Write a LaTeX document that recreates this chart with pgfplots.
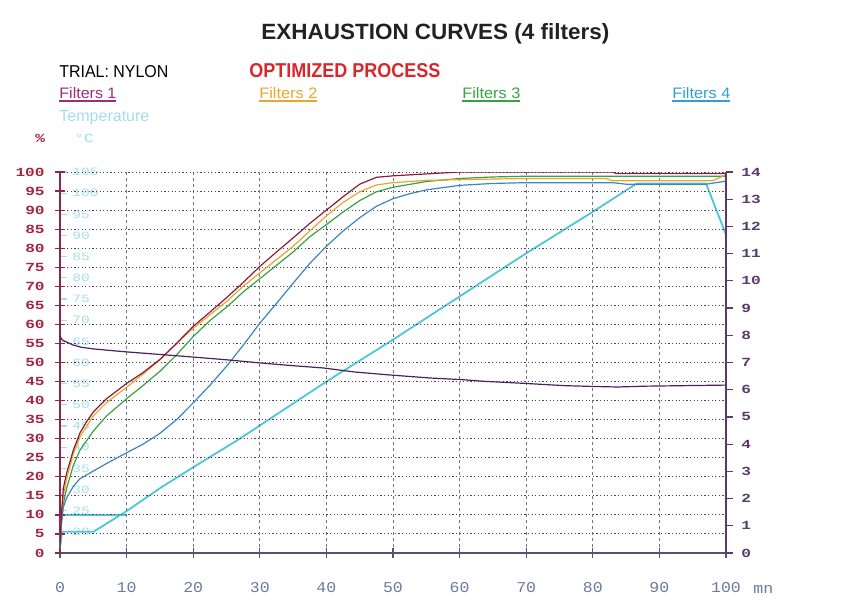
\documentclass[border=0pt]{standalone}
\usepackage{fontspec}
\setmainfont{Liberation Sans}
\newfontfamily\tickfont[FakeStretch=1.3]{Liberation Mono}
\newfontfamily\xtickfont[FakeStretch=1.1]{Liberation Mono}
\usepackage{graphicx}
\usepackage{pgfplots}
\pgfplotsset{compat=1.18}

\definecolor{titlegray}{HTML}{222222}
\definecolor{optred}{HTML}{D8262A}
\definecolor{fone}{HTML}{8C1C3C}
\definecolor{fonelab}{HTML}{9B2D7F}
\definecolor{ftwo}{HTML}{E8A530}
\definecolor{fthree}{HTML}{3AA040}
\definecolor{ffour}{HTML}{3A86BE}
\definecolor{ffourlab}{HTML}{2FA0D0}
\definecolor{temp}{HTML}{4EC6D6}
\definecolor{templab}{HTML}{A5DCEC}
\definecolor{phline}{HTML}{4A2060}
\definecolor{leftax}{HTML}{8C2846}
\definecolor{leftlab}{HTML}{A02840}
\definecolor{rightax}{HTML}{5A3A6E}
\definecolor{botax}{HTML}{5A5070}
\definecolor{botlab}{HTML}{6A7A9A}
\definecolor{gridh}{HTML}{44445E}
\definecolor{gridv}{HTML}{74748A}

\pgfplotsset{
  frame/.style={
    at={(30pt,-276.5pt)}, anchor=south west,
    width=333pt, height=190.5pt, scale only axis,
    xmin=0, xmax=100,
    /pgf/number format/assume math mode=true,
  },
  curve/.style={line width=0.6pt, no marks},
}

\begin{document}
\begin{tikzpicture}[x=0.5pt, y=-0.5pt]
\useasboundingbox (0,0) rectangle (843,606);

% header texts (pixel coordinates, y downwards)
\node[anchor=base west, inner sep=0pt, text=titlegray] at (261,39)
  {\resizebox{174pt}{8pt}{\bfseries EXHAUSTION CURVES (4 filters)}};
\node[anchor=base west, inner sep=0pt] at (59,77)
  {\resizebox{54.5pt}{6pt}{TRIAL: NYLON}};
\node[anchor=base west, inner sep=0pt, text=optred] at (249,77)
  {\resizebox{95.5pt}{7pt}{\bfseries OPTIMIZED PROCESS}};
\node[anchor=base west, inner sep=0pt, text=fonelab] at (59,98)
  {\resizebox{28.5pt}{5.5pt}{Filters 1}};
\node[anchor=base west, inner sep=0pt, text=ftwo] at (259,98)
  {\resizebox{29pt}{5.5pt}{Filters 2}};
\node[anchor=base west, inner sep=0pt, text=fthree] at (462,98)
  {\resizebox{29pt}{5.5pt}{Filters 3}};
\node[anchor=base west, inner sep=0pt, text=ffourlab] at (672,98)
  {\resizebox{29pt}{5.5pt}{Filters 4}};
\draw[fonelab, line width=0.6pt] (59,101) -- (116,101);
\draw[ftwo, line width=0.6pt] (259,101) -- (317,101);
\draw[fthree, line width=0.6pt] (462,101) -- (520,101);
\draw[ffourlab, line width=0.6pt] (672,101) -- (730,101);
\node[anchor=base west, inner sep=0pt, text=templab] at (59,121)
  {\resizebox{45pt}{5.5pt}{Temperature}};
\node[anchor=base west, inner sep=0pt, text=leftlab] at (35,142)
  {\tickfont\bfseries\fontsize{6.2}{7}\selectfont\%};
\node[anchor=base west, inner sep=0pt, text=templab] at (74,142)
  {\tickfont\fontsize{6.2}{7}\selectfont °C};

% temperature scale (inside the plot)
\begin{axis}[frame,
  ymin=15, ymax=105,
  axis x line=none, axis y line*=left,
  y axis line style={draw=none},
  ytick={20,25,...,105},
  tick align=inside, major tick length=3.5pt,
  ytick style={color=templab, line width=0.6pt},
  yticklabel style={anchor=west, inner sep=0pt, xshift=6pt,
    text=templab, font=\tickfont\fontsize{5.6}{6}\selectfont},
]
\addplot[curve, color=temp, line width=0.9pt] coordinates {
  (0,16) (0.3,20) (5,20) (10,24.9) (15,30.3) (20,35.25) (27,42)
  (40,55.5) (50,65.4) (60,75.6) (70,85.8) (80,95.6) (86.6,102.3)
  (97,102.3) (100,90.2)
};
\addplot[curve, color=temp, line width=0.9pt] coordinates {
  (0,24) (10,24)
};
\end{axis}

% main axis, exhaustion in %
\begin{axis}[frame,
  ymin=0, ymax=100,
  axis x line*=bottom, axis y line*=left,
  xtick={0,10,...,100}, ytick={0,5,...,100},
  grid=major,
  y grid style={color=gridh, line width=0.5pt, dash pattern=on 0.6pt off 1.2pt},
  x grid style={color=gridv, line width=0.4pt, dash pattern=on 1.5pt off 1.5pt},
  x axis line style={color=botax, line width=0.9pt},
  y axis line style={color=leftax, line width=0.9pt},
  tick align=center, major tick length=5pt,
  xtick style={color=botax, line width=0.6pt},
  ytick style={color=leftax, line width=0.6pt},
  yticklabel style={anchor=east, inner sep=0pt, xshift=-5pt,
    text=leftlab, font=\tickfont\bfseries\fontsize{6.2}{7}\selectfont},
  xticklabel style={anchor=north, inner sep=0pt, yshift=-12pt,
    text=botlab, font=\xtickfont\fontsize{7.5}{8}\selectfont},
]
\addplot[curve, color=fthree] coordinates {
  (0,1) (0.2,7) (0.5,13) (1,17) (2,23) (3,27) (5,32) (7,36) (10,40.5)
  (12.5,44) (15,47.7) (17.5,52) (20,56.8) (22.5,61) (25,64.5) (27.5,68.5)
  (30,72) (32.5,75.5) (35,79) (37.5,83) (40,86.2) (42.5,89.5) (45,92.5)
  (47.5,94.8) (50,96) (55,97.5) (60,98.3) (65,98.7) (70,98.9) (100,98.9)
};
\addplot[curve, color=ftwo] coordinates {
  (0,2) (0.2,9) (0.5,15) (1,19.5) (2,26) (3,30.5) (5,36) (7,39.5) (10,43.5)
  (12.5,47) (15,50.7) (17.5,55) (20,59) (22.5,62.5) (25,66) (27.5,70)
  (30,73.5) (32.5,77) (35,80.5) (37.5,84.5) (40,88.5) (42.5,92) (45,94.8)
  (47.5,96.6) (50,97.2) (55,97.8) (60,98) (70,98.3) (82,98.3) (83,97.7)
  (98,97.7) (100,99.3)
};
\addplot[curve, color=ffour] coordinates {
  (0,2) (0.2,8) (0.5,12) (1,14.5) (2,17.5) (3,19.5) (5,21.5) (7,23.5)
  (10,26.3) (12.5,28.6) (15,31.4) (17.5,35) (20,39.4) (22.5,44) (25,49)
  (27.5,54.5) (30,60.3) (32.5,65.5) (35,70.8) (37.5,76) (40,80.5)
  (42.5,84.5) (45,88) (47.5,91) (50,93) (52.5,94.3) (55,95.3) (60,96.5)
  (65,97) (70,97.2) (83,97.2) (85,96.8) (97,96.8) (100,97.6)
};
\addplot[curve, color=fone] coordinates {
  (0,2) (0.2,10) (0.5,17) (1,21) (2,27) (3,31.5) (4,34.5) (5,37) (7,40.5)
  (10,44.5) (12.5,47.4) (15,50.8) (17.5,55) (20,59.5) (22.5,63.2) (25,67)
  (27.5,71) (30,75.2) (32.5,79) (35,82.7) (37.5,86.5) (40,90) (42.5,93.5)
  (45,96.8) (47.5,98.6) (50,99) (55,99.5) (60,100) (83,100) (83.5,99.6)
  (100,99.6)
};
\end{axis}
\node[anchor=base west, inner sep=0pt, text=botlab] at (753,593)
  {\xtickfont\fontsize{7.5}{8}\selectfont mn};

% right axis, pH
\begin{axis}[frame,
  ymin=0, ymax=14,
  axis x line=none, axis y line*=right,
  ytick={0,1,...,14},
  y axis line style={color=rightax, line width=0.9pt},
  tick align=outside, major tick length=3.5pt,
  ytick style={color=rightax, line width=0.6pt},
  yticklabel style={anchor=west, inner sep=0pt, xshift=4pt,
    text=rightax, font=\tickfont\bfseries\fontsize{6.2}{7}\selectfont},
]
\addplot[curve, color=phline] coordinates {
  (0,7.97) (0.3,7.84) (0.8,7.77) (2,7.64) (3.2,7.56) (5,7.50) (7.2,7.45)
  (10,7.39) (15.3,7.29) (20,7.20) (25,7.10) (29.8,6.99) (34.6,6.89)
  (39.5,6.80) (44.3,6.65) (49.1,6.55) (55.6,6.43) (60.4,6.37) (63.6,6.31)
  (70,6.23) (75.7,6.15) (80,6.12) (83.7,6.10) (87.8,6.13) (100,6.17)
};
\end{axis}
\end{tikzpicture}
\end{document}
